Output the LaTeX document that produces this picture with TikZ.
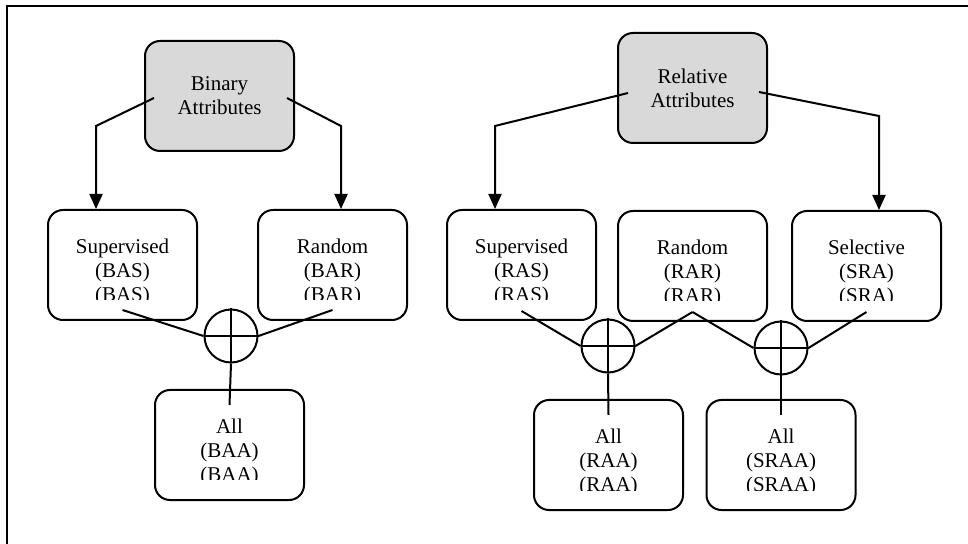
\documentclass[tikz,border=0pt]{standalone}
\usepackage{fontspec}
\setmainfont{Liberation Serif}
\usetikzlibrary{arrows.meta}

\begin{document}
\begin{tikzpicture}[x=0.5pt, y=-0.5pt,
    every node/.style={font=\fontsize{10.5}{12}\selectfont},
    attrbox/.style={draw, rounded corners=7.5pt, line width=1pt, minimum width=74.5pt, minimum height=55pt, inner sep=0pt, align=center},
    rootbox/.style={attrbox, fill=black!15},
    boxtext/.style={anchor=north, inner sep=0pt, align=center},
    sum/.style={draw, circle, line width=1pt, minimum size=26.5pt, inner sep=0pt},
    link/.style={line width=1pt},
    arrow/.style={link, -{Triangle[length=7.5pt, width=6.5pt]}}]

    \useasboundingbox (0,0) rectangle (968,544);

    % Frame (only the top and left edges show)
    \draw[line width=1.1pt] (7,544) -- (7,6) -- (968,6);

    % Root boxes
    \node[rootbox] (binary) at (219.5,96) {Binary\\Attributes};
    \node[rootbox] (relative) at (692.5,88) {Relative\\Attributes};

    % Child boxes: name/x/top/text (text cut off at the bottom)
    \foreach \name/\x/\y/\txt in {
        bas/122.5/209/{Supervised\\(BAS)\\(BAS)},
        bar/332.5/209/{Random\\(BAR)\\(BAR)},
        baa/229.5/389/{All\\(BAA)\\(BAA)},
        ras/521.5/209/{Supervised\\(RAS)\\(RAS)},
        rar/692.5/210/{Random\\(RAR)\\(RAR)},
        sra/866.5/210/{Selective\\(SRA)\\(SRA)},
        raa/608.5/399/{All\\(RAA)\\(RAA)},
        sraa/781/399/{All\\(SRAA)\\(SRAA)}} {
        \node[attrbox, anchor=north] (\name) at (\x,\y) {};
        \begin{scope}
            \clip (\name.north west) rectangle ([yshift=-45.5pt]\name.north east);
            \node[boxtext] at ([yshift=-15pt]\name.north) {\txt};
        \end{scope}
    }

    % Sum circles
    \node[sum] (sumB) at (231,336) {};
    \node[sum] (sumR) at (608,346) {};
    \node[sum] (sumS) at (781,348) {};
    \foreach \s in {sumB,sumR,sumS}
        \draw[link] (\s.north) -- (\s.south) (\s.west) -- (\s.east);

    % Arrows from the roots
    \coordinate (bendBL) at (96,126);
    \coordinate (bendBR) at (341,126);
    \coordinate (bendRL) at (495,126);
    \coordinate (bendRR) at (879,116);
    \draw[arrow] ([xshift=5pt,yshift=-1pt]binary.west) -- (bendBL) -- (bendBL |- bas.north);
    \draw[arrow] ([xshift=-4pt,yshift=-1pt]binary.east) -- (bendBR) -- (bendBR |- bar.north);
    \draw[arrow] ([xshift=5.5pt,yshift=-2.5pt]relative.west) -- (bendRL) -- (bendRL |- ras.north);
    \draw[arrow] ([xshift=-4.5pt,yshift=-2pt]relative.east) -- (bendRR) -- (bendRR |- sra.north);

    % Links into the sums
    \draw[link] ([yshift=5.5pt]bas.south) -- (sumB.west);
    \draw[link] ([yshift=5.5pt]bar.south) -- (sumB.east);
    \draw[link] (sumB.south) -- ([yshift=-8pt]baa.north);
    \draw[link] ([yshift=5pt]ras.south) -- (sumR.west);
    \draw[link] ([yshift=5pt]rar.south) -- (sumR.east);
    \draw[link] ([yshift=5pt]rar.south) -- (sumS.west);
    \draw[link] ([yshift=5pt]sra.south) -- (sumS.east);
    \draw[link] (sumR.south) -- ([yshift=-8pt]raa.north);
    \draw[link] (sumS.south) -- ([yshift=-8pt]sraa.north);

\end{tikzpicture}
\end{document}
